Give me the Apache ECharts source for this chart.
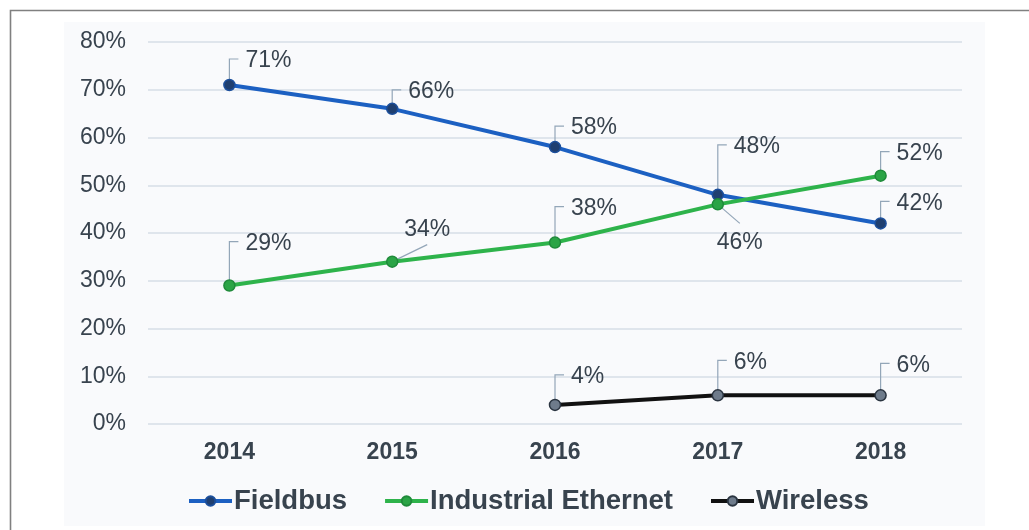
<!DOCTYPE html>
<html>
<head>
<meta charset="utf-8">
<script src="https://cdn.jsdelivr.net/npm/echarts@6/dist/echarts.min.js"></script>
<style>
html,body{margin:0;padding:0;background:#fff;}
#c{width:1029px;height:530px;}
</style>
</head>
<body>
<div id="c"></div>
<script>
// ---- data ----
const years = ['2014', '2015', '2016', '2017', '2018'];
const fieldbus = [71, 66, 58, 48, 42];
const industrialEthernet = [29, 34, 38, 46, 52];
const wireless = [null, null, 4, 6, 6];
const yTicks = [0, 10, 20, 30, 40, 50, 60, 70, 80];

// ---- label callout layout (presentation only) ----
// e: elbow leader going up by dy; d: diagonal leader to (dx,dy), text centered beyond it
const calloutLayout = {
  Fieldbus: [{k:'e',dy:-26},{k:'e',dy:-19},{k:'e',dy:-21},{k:'e',dy:-50},{k:'e',dy:-22}],
  'Industrial Ethernet': [{k:'e',dy:-44},{k:'d',dx:35,dy:-17,ty:-32},{k:'e',dy:-36},{k:'d',dx:22,dy:19,ty:38},{k:'e',dy:-24}],
  Wireless: [null,null,{k:'e',dy:-30},{k:'e',dy:-35},{k:'e',dy:-32}]
};

const txtColor = '#38434e';
const leaderColor = '#93a6b8';
const fontFam = '"Liberation Sans", Arial, Helvetica, sans-serif';

function calloutSeries(name, values) {
  const data = [];
  values.forEach((v, i) => { if (v !== null) data.push([i, v]); });
  return {
    type: 'custom',
    name: name + ' labels',
    z: 1,
    silent: true,
    encode: { x: 0, y: 1 },
    data: data,
    renderItem: function (params, api) {
      const idx = api.value(0);
      const val = api.value(1);
      const p = api.coord([idx, val]);
      const L = calloutLayout[name][idx];
      const children = [];
      if (L.k === 'e') {
        children.push({
          type: 'polyline',
          shape: { points: [[p[0], p[1]], [p[0], p[1] + L.dy], [p[0] + 9, p[1] + L.dy]] },
          style: { stroke: leaderColor, lineWidth: 1.2, fill: null }
        });
        children.push({
          type: 'text',
          x: p[0] + 16, y: p[1] + L.dy + 2,
          style: { text: val + '%', fill: txtColor, font: '23px ' + fontFam, align: 'left', verticalAlign: 'middle' }
        });
      } else {
        children.push({
          type: 'line',
          shape: { x1: p[0], y1: p[1], x2: p[0] + L.dx, y2: p[1] + L.dy },
          style: { stroke: leaderColor, lineWidth: 1.2 }
        });
        children.push({
          type: 'text',
          x: p[0] + L.dx, y: p[1] + L.ty,
          style: { text: val + '%', fill: txtColor, font: '23px ' + fontFam, align: 'center', verticalAlign: 'middle' }
        });
      }
      return { type: 'group', children: children };
    }
  };
}

function lineSeries(name, values, lineColor, markerFill, markerBorder) {
  return {
    type: 'line',
    name: name,
    data: values,
    z: 3,
    symbol: 'circle',
    symbolSize: 11,
    connectNulls: false,
    lineStyle: { color: lineColor, width: 4 },
    itemStyle: { color: markerFill, borderColor: markerBorder, borderWidth: 1.5 },
    emphasis: { disabled: true },
    animation: false
  };
}

const chart = echarts.init(document.getElementById('c'), null, { renderer: 'canvas' });
chart.setOption({
  animation: false,
  backgroundColor: '#ffffff',
  graphic: [
    { type: 'rect', z: -10, shape: { x: 64, y: 22, width: 921, height: 504 }, style: { fill: '#f9fafc' } },
    { type: 'polyline', z: -9, shape: { points: [[10.5, 540], [10.5, 10.5], [1040, 10.5]] }, style: { stroke: '#808080', lineWidth: 1.6, fill: null } }
  ],
  grid: { left: 148, right: 67, top: 42, bottom: 106 },
  legend: {
    left: 182, top: 482,
    itemWidth: 43, itemHeight: 12, itemGap: 36,
    lineStyle: { width: 4 },
    textStyle: { fontSize: 27.5, fontWeight: 'bold', color: txtColor, fontFamily: fontFam, padding: [0, 0, 0, -3] },
    data: ['Fieldbus', 'Industrial Ethernet', 'Wireless']
  },
  xAxis: {
    type: 'category',
    data: years,
    boundaryGap: true,
    axisLine: { show: false },
    axisTick: { show: false },
    axisLabel: { color: txtColor, fontSize: 23, fontWeight: 'bold', fontFamily: fontFam, margin: 17 }
  },
  yAxis: {
    type: 'value',
    min: yTicks[0], max: yTicks[yTicks.length - 1], interval: 10,
    axisLine: { show: false },
    axisTick: { show: false },
    splitLine: { lineStyle: { color: '#d6dee7', width: 1.5 } },
    axisLabel: { color: txtColor, fontSize: 23, fontFamily: fontFam, margin: 22, formatter: '{value}%' }
  },
  series: [
    calloutSeries('Fieldbus', fieldbus),
    calloutSeries('Industrial Ethernet', industrialEthernet),
    calloutSeries('Wireless', wireless),
    lineSeries('Fieldbus', fieldbus, '#1c60c2', '#1f3f70', '#1c4f9c'),
    lineSeries('Industrial Ethernet', industrialEthernet, '#2eb34b', '#2ba446', '#1f8a3a'),
    lineSeries('Wireless', wireless, '#111111', '#6e7b8b', '#2a3440')
  ]
});
</script>
</body>
</html>
